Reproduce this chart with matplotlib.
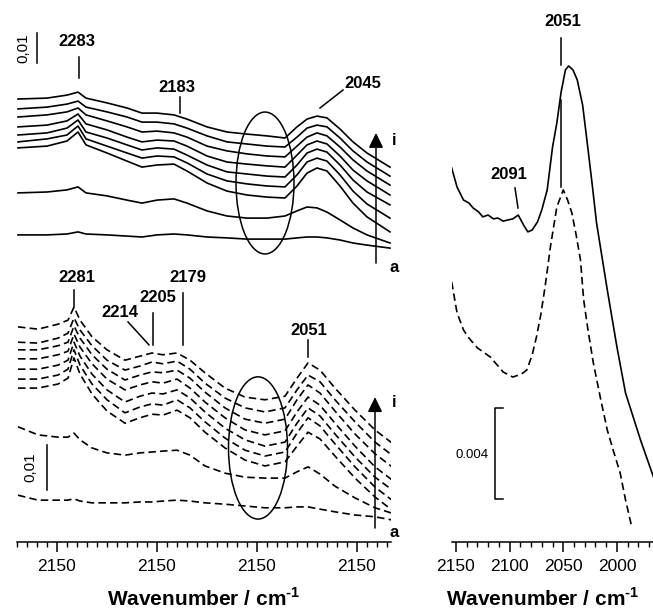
import matplotlib
matplotlib.use('Agg')
import matplotlib.pyplot as plt
from matplotlib.patches import Ellipse
from matplotlib.ticker import FixedLocator, FixedFormatter, MultipleLocator

plt.rcParams['font.family'] = ['Liberation Sans', 'DejaVu Sans']
plt.rcParams['mathtext.fontset'] = 'custom'
plt.rcParams['mathtext.rm'] = 'Liberation Sans:bold'
plt.rcParams['mathtext.bf'] = 'Liberation Sans:bold'

# ---------------- data (absorbance in units of 0.001, stacked as shown) ----------------
# left panel, upper set (solid lines a..i)
wn_top = [2339, 2310, 2290, 2279, 2271, 2250, 2230, 2215, 2200, 2183, 2170, 2150,
          2130, 2110, 2090, 2072, 2060, 2050, 2040, 2030, 2017, 2004, 1990, 1967]
top_a = [11.7, 11.7, 12.0, 12.7, 12.0, 11.7, 11.3, 11.0, 11.7, 12.0, 11.7, 11.0,
         10.7, 10.3, 10.3, 10.3, 10.7, 11.0, 11.0, 10.7, 10.0, 9.0, 8.3, 7.3]
top_b = [25.7, 26.0, 26.7, 27.7, 25.7, 24.7, 23.3, 22.3, 23.3, 23.7, 22.3, 19.7,
         18.0, 17.3, 17.3, 18.0, 19.7, 21.0, 20.7, 19.3, 16.7, 14.0, 11.7, 9.0]
top_c = [40.7, 41.3, 43.0, 46.0, 41.7, 39.0, 36.3, 34.3, 35.0, 35.3, 33.0, 29.0,
         26.3, 25.0, 24.3, 24.0, 28.0, 32.3, 34.0, 33.0, 28.0, 22.3, 17.7, 12.7]
top_d = [42.7, 43.7, 45.0, 48.0, 43.7, 41.3, 39.0, 37.3, 38.0, 37.7, 35.7, 32.0,
         29.7, 28.7, 28.0, 27.7, 31.7, 36.0, 37.3, 36.3, 31.7, 26.3, 22.0, 17.3]
top_e = [45.0, 45.7, 47.3, 50.0, 46.0, 44.0, 41.7, 40.0, 40.7, 40.3, 38.3, 35.0,
         32.7, 32.0, 31.3, 31.0, 35.0, 39.0, 40.3, 39.3, 35.0, 30.0, 26.0, 21.7]
top_f = [47.7, 48.3, 49.7, 52.0, 48.7, 46.7, 44.3, 42.7, 43.3, 43.0, 41.3, 38.0,
         36.0, 35.3, 34.7, 34.3, 38.3, 41.7, 43.0, 42.0, 38.0, 33.3, 29.7, 25.0]
top_g = [51.0, 51.7, 52.7, 54.0, 51.7, 49.7, 47.7, 46.0, 46.3, 45.7, 44.3, 41.3,
         39.7, 38.7, 38.0, 37.7, 41.3, 44.3, 45.7, 44.7, 41.0, 36.7, 33.0, 28.3]
top_h = [53.7, 54.3, 55.3, 56.3, 54.3, 52.7, 51.0, 49.3, 49.3, 48.7, 47.3, 44.7,
         42.7, 42.0, 41.3, 41.0, 44.3, 47.3, 48.3, 47.7, 44.0, 39.7, 36.0, 31.3]
top_i = [57.0, 57.3, 58.3, 59.3, 57.3, 55.7, 54.0, 52.3, 52.3, 51.7, 50.3, 47.7,
         46.0, 45.3, 44.7, 44.0, 47.7, 50.3, 51.3, 50.7, 47.0, 42.7, 39.0, 34.3]

# left panel, lower set (dashed lines a..i)
wn_bot = [2339, 2319, 2299, 2289, 2283, 2277, 2265, 2250, 2232, 2217, 2205, 2194, 2180,
          2167, 2152, 2132, 2112, 2092, 2072, 2060, 2049, 2037, 2022, 2002, 1982, 1965]
bot_a = [10.4, 9.3, 9.3, 9.3, 9.6, 9.1, 8.7, 8.7, 8.7, 8.9, 8.9, 9.1, 9.3,
         9.1, 8.7, 8.4, 8.0, 7.6, 7.6, 7.8, 7.8, 7.3, 6.7, 6.0, 5.6, 4.9]
bot_b = [25.6, 23.8, 23.3, 23.3, 24.2, 22.7, 20.9, 19.8, 19.3, 19.8, 20.0, 20.2, 20.4,
         19.3, 16.9, 15.3, 14.4, 14.2, 14.2, 15.6, 16.7, 15.1, 12.4, 9.8, 7.6, 6.4]
bot_c = [34.2, 34.2, 35.1, 36.4, 40.9, 37.3, 32.9, 29.1, 26.4, 27.6, 28.4, 28.2, 29.3,
         27.6, 24.4, 20.9, 18.2, 16.9, 17.8, 21.3, 24.4, 22.9, 19.1, 14.2, 10.0, 7.1]
bot_d = [36.2, 36.2, 37.1, 38.4, 42.7, 39.3, 35.1, 31.6, 28.7, 30.0, 30.7, 30.4, 31.6,
         29.8, 26.7, 23.1, 20.4, 19.1, 20.0, 24.2, 27.6, 25.8, 21.8, 16.7, 12.2, 9.3]
bot_e = [38.4, 38.4, 39.3, 40.4, 44.4, 41.3, 37.3, 33.8, 31.1, 32.4, 33.1, 32.9, 33.8,
         32.0, 28.9, 25.3, 22.7, 21.3, 22.2, 26.4, 29.8, 28.0, 24.0, 18.9, 14.4, 11.6]
bot_f = [40.7, 40.7, 41.6, 42.4, 46.2, 43.3, 39.6, 36.2, 33.8, 34.9, 35.6, 35.3, 36.2,
         34.2, 31.1, 27.6, 24.9, 23.8, 24.7, 28.9, 32.2, 30.4, 26.4, 21.3, 16.7, 13.8]
bot_g = [42.7, 42.7, 43.6, 44.4, 48.0, 45.3, 41.6, 38.4, 36.0, 37.1, 37.8, 37.6, 38.2,
         36.4, 33.3, 29.8, 27.3, 26.4, 27.3, 31.6, 34.9, 33.1, 29.1, 24.0, 19.6, 16.7]
bot_h = [44.4, 44.2, 45.3, 46.4, 49.8, 47.1, 43.6, 40.4, 38.2, 39.1, 40.0, 39.6, 40.2,
         38.4, 35.3, 32.0, 29.8, 28.9, 29.8, 33.8, 37.1, 35.6, 31.6, 26.7, 22.2, 19.3]
bot_i = [47.8, 47.3, 48.4, 49.3, 52.2, 49.3, 45.6, 42.7, 40.4, 41.3, 42.0, 41.6, 42.0,
         40.4, 37.6, 34.2, 32.2, 31.6, 32.4, 36.4, 39.8, 38.2, 34.2, 29.3, 24.9, 22.0]

# right panel
wn_r_solid = [2154, 2149, 2143, 2138, 2134, 2129, 2125, 2120, 2115, 2111, 2106, 2102, 2097,
              2092, 2087, 2083, 2079, 2074, 2070, 2065, 2060, 2056, 2052, 2048, 2045, 2041,
              2037, 2032, 2028, 2023, 2019, 2009, 2000, 1992, 1978, 1966]
r_solid = [16.44, 15.6, 15.03, 14.9, 14.68, 14.51, 14.29, 14.37, 14.2, 14.24, 14.1, 14.15, 14.2,
           14.37, 13.93, 13.63, 13.71, 14.07, 14.6, 15.47, 17.36, 18.42, 19.78, 20.75, 20.92, 20.75,
           20.31, 19.21, 17.67, 15.69, 14.02, 11.08, 8.57, 6.55, 4.48, 2.86]
wn_r_dash = [2154, 2149, 2143, 2138, 2130, 2118, 2106, 2097, 2089, 2084, 2079, 2075, 2071, 2067,
             2062, 2056, 2050, 2046, 2042, 2038, 2034, 2031, 2027, 2022, 2015, 2009, 2003, 1997,
             1992, 1986]
r_dash = [11.43, 10.07, 9.32, 8.97, 8.53, 8.13, 7.47, 7.25, 7.38, 7.56, 8.22, 9.01, 9.98, 11.21,
          12.97, 14.73, 15.47, 15.03, 14.46, 13.49, 12.40, 10.64, 9.32, 7.87, 6.24, 4.92, 3.96, 3.03,
          1.85, 0.62]

left_ticks = [2300, 2200, 2100, 2000]
left_ticklabels = ['2150', '2150', '2150', '2150']
right_ticks = [2150, 2100, 2050, 2000]
right_ticklabels = ['2150', '2100', '2050', '2000']
xlabel = r'Wavenumber / cm$^{\text{-1}}$'

top_set = [top_a, top_b, top_c, top_d, top_e, top_f, top_g, top_h, top_i]
bot_set = [bot_a, bot_b, bot_c, bot_d, bot_e, bot_f, bot_g, bot_h, bot_i]

LW = 1.2
DASH = (4.5, 2.5)
FS = 12

fig = plt.figure(figsize=(6.53, 6.09), dpi=100)
W, H = 653.0, 609.0

def axes_px(x0, x1, y0, y1):
    return fig.add_axes([x0 / W, 1 - y1 / H, (x1 - x0) / W, (y1 - y0) / H])

ax_top = axes_px(17, 391, 0, 270)
ax_bot = axes_px(17, 391, 270, 542)
ax_r = axes_px(452, 653, 0, 542)

for ax in (ax_top, ax_bot, ax_r):
    ax.patch.set_alpha(0)
    for s in ('left', 'right', 'top'):
        ax.spines[s].set_visible(False)
    ax.set_yticks([])

ax_top.spines['bottom'].set_visible(False)
ax_top.set_xticks([])
ax_top.set_xlim(2340, 1966)
ax_top.set_ylim(0, 90)
ax_bot.set_xlim(2340, 1966)
ax_bot.set_ylim(0, 60.44)
ax_r.set_xlim(2153.7, 1966.4)
ax_r.set_ylim(0, 23.82)

# spectra
for y in top_set:
    ax_top.plot(wn_top, y, color='k', lw=LW)
for y in bot_set:
    ax_bot.plot(wn_bot, y, color='k', lw=LW, dashes=DASH)
ax_r.plot(wn_r_solid, r_solid, color='k', lw=LW)
ax_r.plot(wn_r_dash, r_dash, color='k', lw=LW, dashes=DASH)

# x axes
for ax, ticks, labels in ((ax_bot, left_ticks, left_ticklabels),
                          (ax_r, right_ticks, right_ticklabels)):
    ax.spines['bottom'].set_linewidth(1.1)
    ax.xaxis.set_major_locator(FixedLocator(ticks))
    ax.xaxis.set_major_formatter(FixedFormatter(labels))
    ax.xaxis.set_minor_locator(MultipleLocator(10))
    ax.tick_params(axis='x', which='major', length=7.5, width=1.1, labelsize=12.5, pad=5)
    ax.tick_params(axis='x', which='minor', length=3.5, width=1.0)
ax_bot.set_xlabel(xlabel, fontsize=15, fontweight='bold', labelpad=9)
ax_r.set_xlabel(xlabel, fontsize=15, fontweight='bold', labelpad=9, x=0.453)

# ellipses
ax_top.add_patch(Ellipse((2092, 29.0), 58, 47.3, fill=False, lw=1.1, color='k'))
ax_bot.add_patch(Ellipse((2099, 20.9), 59, 31.6, fill=False, lw=1.1, color='k'))

# arrows a -> i
arrow = dict(arrowstyle='-|>,head_length=0.45,head_width=0.22', color='k', lw=1.1,
             shrinkA=0, shrinkB=0, mutation_scale=20)
ax_top.annotate('', xy=(1981, 45.7), xytext=(1981, 2.3), arrowprops=arrow, annotation_clip=False)
ax_bot.annotate('', xy=(1982, 32.2), xytext=(1982, 3.1), arrowprops=arrow, annotation_clip=False)
ax_top.text(1963, 43.3, 'i', fontsize=FS, fontweight='bold', ha='center', va='center')
ax_top.text(1963, 0.7, 'a', fontsize=FS, fontweight='bold', ha='center', va='center')
ax_bot.text(1963, 30.9, 'i', fontsize=FS, fontweight='bold', ha='center', va='center')
ax_bot.text(1963, 2.0, 'a', fontsize=FS, fontweight='bold', ha='center', va='center')

# scale bars
ax_top.plot([2320, 2320], [69, 79], color='k', lw=1.1)
ax_top.text(2334, 74, '0,01', rotation=90, fontsize=11, ha='center', va='center')
ax_bot.plot([2310, 2310], [11.6, 21.6], color='k', lw=1.1)
ax_bot.text(2327, 16.7, '0,01', rotation=90, fontsize=11, ha='center', va='center')
ax_r.plot([2106.2, 2113.7, 2113.7, 2106.2], [5.89, 5.89, 1.89, 1.89], color='k', lw=1.1)
ax_r.text(2135.1, 3.82, '0.004', fontsize=9.5, ha='center', va='center')

# peak labels: (text, text position, marker line)
def peak(ax, txt, tx, ty, lx, ly):
    ax.text(tx, ty, txt, fontsize=FS, fontweight='bold', ha='center', va='center')
    ax.plot(lx, ly, color='k', lw=1.1, clip_on=False)

peak(ax_top, '2283', 2280, 76.0, [2278, 2278], [71.0, 64.0])
peak(ax_top, '2183', 2180, 61.0, [2177, 2177], [57.7, 52.3])
peak(ax_top, '2045', 1994, 62.3, [2014, 2037], [60.0, 54.0])
peak(ax_bot, '2281', 2280, 58.7, [2283, 2283], [56.0, 52.2])
peak(ax_bot, '2214', 2237, 51.1, [2229, 2208], [48.9, 43.8])
peak(ax_bot, '2205', 2199, 54.4, [2204, 2204], [50.9, 43.8])
peak(ax_bot, '2179', 2169, 58.7, [2174, 2174], [55.3, 43.8])
peak(ax_bot, '2051', 2048, 47.1, [2049, 2049], [44.9, 41.1])
peak(ax_r, '2051', 2050.3, 22.86, [2052.1, 2052.1], [22.15, 20.97])
ax_r.plot([2052.1, 2052.1], [19.43, 15.60], color='k', lw=1.1)
peak(ax_r, '2091', 2100.6, 16.13, [2095.0, 2092.2], [15.56, 14.68])

fig.savefig('out.png', dpi=100)
